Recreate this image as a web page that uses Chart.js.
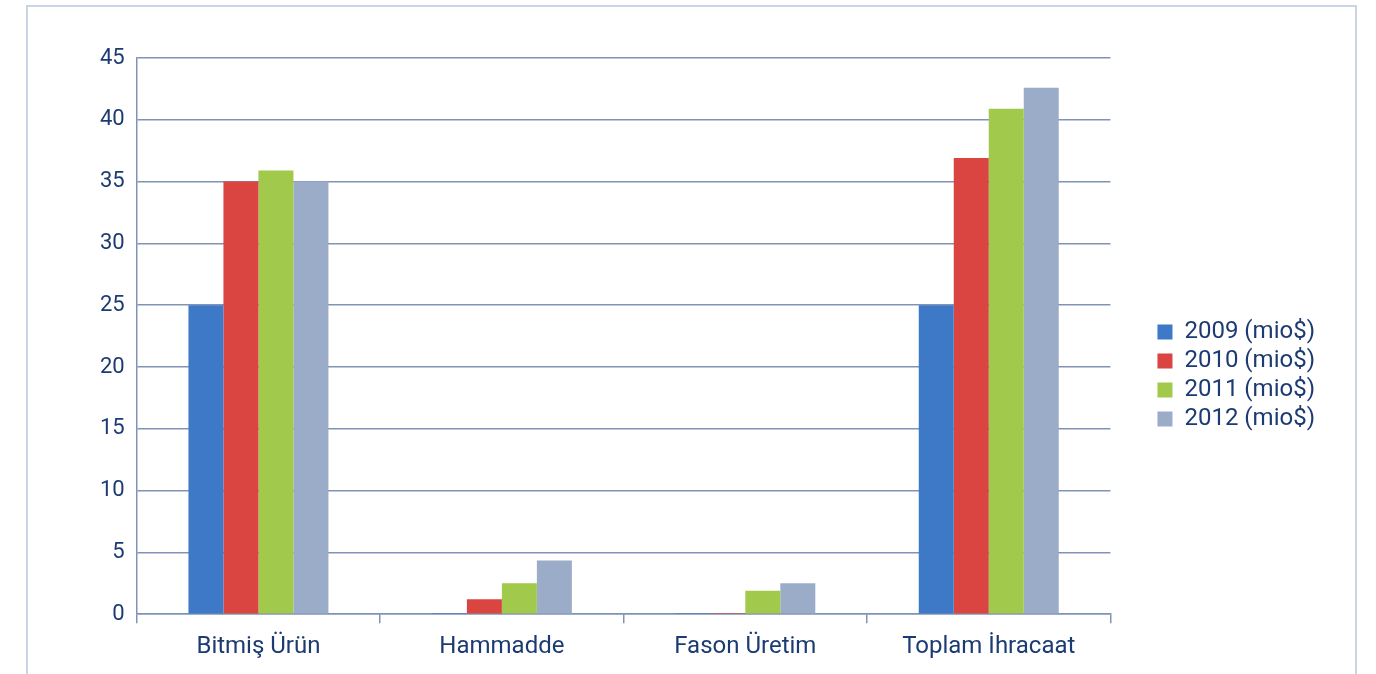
<!DOCTYPE html>
<html>
<head>
<meta charset="utf-8">
<script src="https://cdn.jsdelivr.net/npm/chart.js@4/dist/chart.umd.min.js"></script>
<style>
  html,body{margin:0;padding:0;background:#fff;}
  #wrap{position:relative;width:1376px;height:674px;overflow:hidden;}
  #frame{position:absolute;left:26px;top:5px;width:1331px;height:700px;border:2px solid #c9d4e4;box-sizing:border-box;}
  #c{position:absolute;left:0;top:0;}
</style>
</head>
<body>
<div id="wrap">
  <div id="frame"></div>
  <canvas id="c" width="1376" height="674"></canvas>
</div>
<script>
// categories and values (mio $)
const categories=["Bitmiş Ürün","Hammadde","Fason Üretim","Toplam İhracaat"];
const v2009=[25,0.1,0.1,25];
const v2010=[35,1.2,0.1,36.9];
const v2011=[35.9,2.5,1.9,40.9];
const v2012=[35,4.35,2.5,42.6];
const yTicks=[0,5,10,15,20,25,30,35,40,45];

const txt="#1d3b73";
const grid="#8093b6";
const font="Roboto, 'DejaVu Sans Condensed', sans-serif";

function ds(label,data,color)
{
  return {label:label,data:data,backgroundColor:color,borderWidth:0,
          barPercentage:1,categoryPercentage:0.575};
}

new Chart(document.getElementById("c"),{
  type:"bar",
  data:{
    labels:categories,
    datasets:[
      ds("2009 (mio$)",v2009,"#3d79c6"),
      ds("2010 (mio$)",v2010,"#da4441"),
      ds("2011 (mio$)",v2011,"#a1c94b"),
      ds("2012 (mio$)",v2012,"#9bacc8")
    ]
  },
  options:{
    responsive:false,
    animation:false,
    layout:{padding:{left:88,top:58,right:51,bottom:4}},
    plugins:{
      tooltip:{enabled:false},
      legend:{
        position:"right",
        title:{display:true,text:"",font:{size:10},padding:{top:0,bottom:11}},
        labels:{boxWidth:15,boxHeight:15,padding:5,color:txt,font:{family:font,size:24}}
      }
    },
    scales:{
      x:{
        offset:true,
        grid:{offset:true,drawOnChartArea:false,drawTicks:true,tickLength:9,color:grid,lineWidth:1.5},
        border:{color:grid,width:1.5},
        ticks:{color:txt,font:{family:font,size:24},padding:9}
      },
      y:{
        min:0,max:45,
        afterBuildTicks:(ax)=>{ax.ticks=yTicks.map(v=>({value:v}));},
        grid:{color:grid,lineWidth:1.5,drawTicks:false},
        border:{color:grid,width:1.5},
        ticks:{color:txt,font:{family:font,size:22},padding:12}
      },
      // empty spacer between plot and legend
      gap:{
        position:"right",
        grid:{display:false},
        border:{display:false},
        ticks:{display:false},
        afterFit:(s)=>{s.width=42;}
      }
    }
  }
});
</script>
</body>
</html>
